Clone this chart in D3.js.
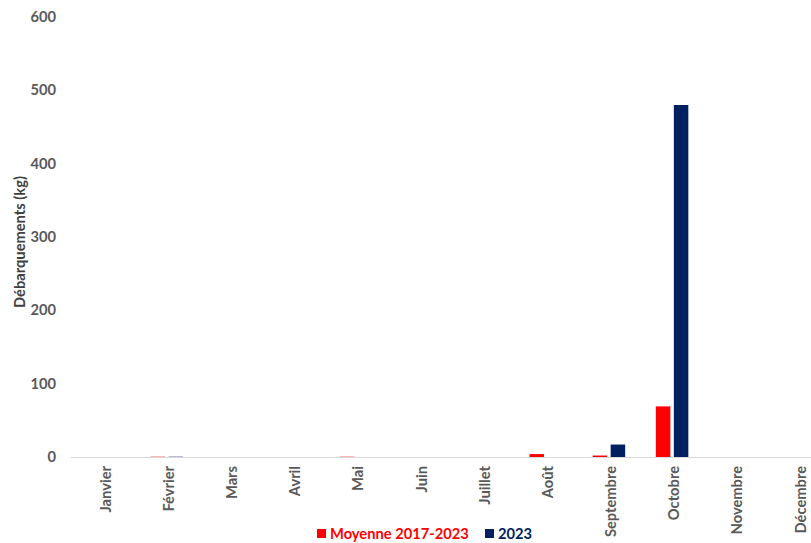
<!DOCTYPE html>
<html><head><meta charset="utf-8">
<script src="https://cdn.jsdelivr.net/npm/d3@7"></script>
<style>
html,body{margin:0;padding:0;background:#fff;}
svg{display:block;font-family:Lato,"Open Sans",sans-serif;}
</style></head>
<body>
<svg id="chart" width="811" height="543"></svg>
<script>
const categories = ["Janvier","Février","Mars","Avril","Mai","Juin","Juillet","Août","Septembre","Octobre","Novembre","Décembre"];
const seriesNames = ["Moyenne 2017-2023","2023"];
const moyenne = [0, 0.4, 0, 0, 0.4, 0, 0, 4, 2, 69, 0, 0];
const values2023 = [0, 0.4, 0, 0, 0, 0, 0, 0, 17, 480, 0, 0];
const yTicks = [0,100,200,300,400,500,600];
const colors = ["#FF0000","#002060"];

const rows = categories.map((c,i)=>({cat:c, vals:[moyenne[i], values2023[i]]}));
const FS = 14.7;

const svg = d3.select("#chart");
const x0 = d3.scaleBand().domain(categories).range([72, 830]).padding(0);
const x1 = d3.scaleBand().domain(seriesNames).range([-16.25, 16.25]).paddingInner(0.194).paddingOuter(0);
const y = d3.scaleLinear().domain([0,600]).range([457, 17]);

// y tick labels
svg.append("g").selectAll("text").data(yTicks).join("text")
  .attr("x", 56).attr("y", d=>y(d)).attr("dy","0.35em")
  .attr("text-anchor","end").attr("font-size",FS).attr("font-weight","bold").attr("fill","#595959")
  .text(d=>d);

// y title
svg.append("text").attr("transform",`translate(25,${(y(0)+y(600))/2+5}) rotate(-90)`)
  .attr("text-anchor","middle").attr("font-size",FS).attr("font-weight","bold").attr("fill","#404040")
  .text("Débarquements (kg)");

// bars
const g = svg.append("g");
rows.forEach(r=>{
  const cx = x0(r.cat) + x0.bandwidth()/2;
  r.vals.forEach((v,j)=>{
    g.append("rect")
      .attr("x", cx + x1(seriesNames[j]))
      .attr("width", x1.bandwidth())
      .attr("y", y(v))
      .attr("height", y(0)-y(v))
      .attr("fill", colors[j]);
  });
});

// baseline
svg.append("line").attr("x1",71).attr("x2",811).attr("y1",y(0)+0.5).attr("y2",y(0)+0.5)
  .attr("stroke","#d9d9d9").attr("stroke-width",1);

// x labels
svg.append("g").selectAll("text").data(categories).join("text")
  .attr("transform", d=>`translate(${x0(d)+x0.bandwidth()/2+2},466) rotate(-90)`)
  .attr("text-anchor","end").attr("dy","0.35em")
  .attr("font-size",FS).attr("font-weight","bold").attr("fill","#595959")
  .text(d=>d);

// legend
const leg = svg.append("g");
const legItems = [{name:seriesNames[0], x:317},{name:seriesNames[1], x:485}];
legItems.forEach((it,j)=>{
  leg.append("rect").attr("x",it.x).attr("y",529).attr("width",9).attr("height",9).attr("fill",colors[j]);
  leg.append("text").attr("x",it.x+13).attr("y",539).attr("font-size",FS).attr("font-weight","bold")
    .attr("fill",colors[j]).text(it.name);
});
</script>
</body></html>
